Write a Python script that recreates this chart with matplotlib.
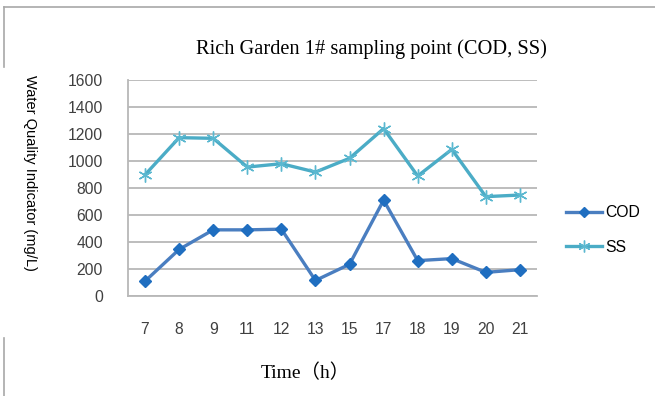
import matplotlib
matplotlib.use("Agg")
import matplotlib.pyplot as plt
from matplotlib.lines import Line2D

# Sampling hours and measured concentrations (mg/L)
hours = ["7", "8", "9", "11", "12", "13", "15", "17", "18", "19", "20", "21"]
cod = [110, 345, 490, 490, 495, 115, 235, 710, 262, 277, 175, 195]
ss = [898, 1173, 1168, 955, 980, 918, 1020, 1240, 889, 1086, 736, 748]
y_ticks = [0, 200, 400, 600, 800, 1000, 1200, 1400, 1600]

W, H = 655, 396
fig = plt.figure(figsize=(W / 100, H / 100), dpi=100)
fig.patch.set_facecolor("white")

ax = fig.add_axes([128 / W, 1 - 296 / H, (537 - 128) / W, (296 - 80) / H])
x = list(range(len(hours)))

ax.plot(x, cod, color="#4A7EC0", lw=2.4, marker="D", markersize=6.5,
        markerfacecolor="#1F6EC0", markeredgecolor="#1F6EC0", label="COD",
        zorder=4)
ax.plot(x, ss, color="#4BACC6", lw=2.4, marker=(6, 2, 0), markersize=10,
        markeredgecolor="#5BB8D0", markeredgewidth=1.0, label="SS", zorder=3)

ax.set_xlim(-0.5, len(hours) - 0.5)
ax.set_ylim(0, 1600)
ax.set_yticks(y_ticks)
ax.set_xticks(x)
ax.set_xticklabels(hours)

for lab in ax.get_xticklabels() + ax.get_yticklabels():
    lab.set_fontfamily("Liberation Sans")
    lab.set_fontsize(11.3)
    lab.set_color("#404040")

ax.tick_params(axis="both", length=0)
ax.tick_params(axis="x", pad=18.5)
ax.tick_params(axis="y", pad=18)

ax.yaxis.grid(True, color="#B8B8B8", lw=1.3)
ax.set_axisbelow(True)
for side in ("top", "right"):
    ax.spines[side].set_visible(False)
for side in ("left", "bottom"):
    ax.spines[side].set_color("#B8B8B8")
    ax.spines[side].set_linewidth(1.3)

fig.text(371 / W, 1 - 49 / H, "Rich Garden 1# sampling point (COD, SS)",
         family="Liberation Serif", fontsize=14.7, ha="center", va="center")
fig.text(30 / W, 1 - 173 / H, "Water Quality Indicator (mg/L)",
         family="Liberation Sans", fontsize=10.5, rotation=270,
         ha="center", va="center")
fig.text(305 / W, 1 - 373 / H, "Time（h）",
         family=["Liberation Serif", "Noto Sans CJK SC"], fontsize=14,
         ha="center", va="center")

fig.legend(loc="center left", bbox_to_anchor=(552 / W, 1 - 230 / H),
           frameon=False, handlelength=2.3, handletextpad=0.2,
           labelspacing=1.25, markerscale=0.85,
           prop={"family": "Liberation Sans", "size": 11.3})

# partial frame around the chart area
frame_kw = dict(color="#A8A8A8", lw=1.2, transform=fig.transFigure)
fig.add_artist(Line2D([4 / W, 1], [1 - 7 / H, 1 - 7 / H], **frame_kw))
fig.add_artist(Line2D([4 / W, 4 / W], [1 - 7 / H, 1 - 67 / H], **frame_kw))
fig.add_artist(Line2D([4 / W, 4 / W], [1 - 338 / H, 0], **frame_kw))

fig.savefig("out.png", dpi=100)
